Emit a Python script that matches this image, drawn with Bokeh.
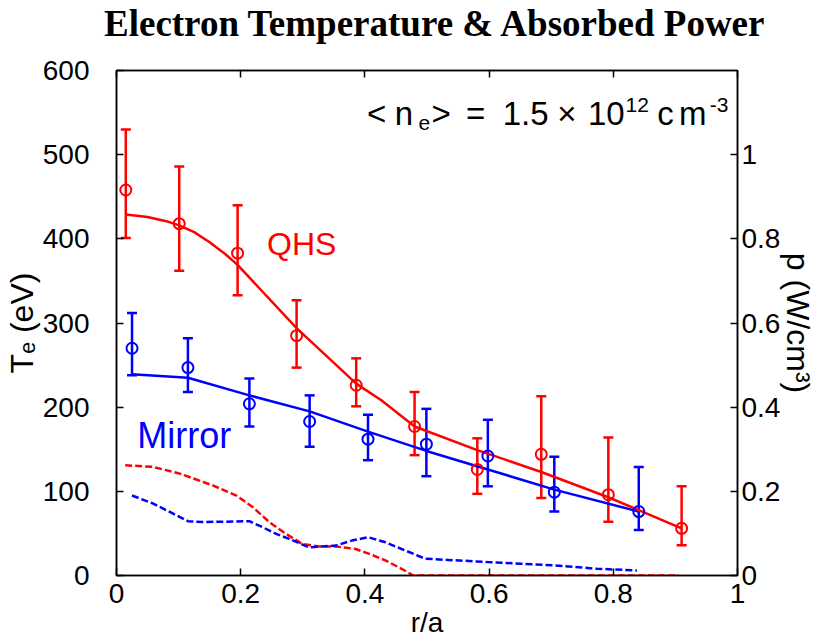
from bokeh.plotting import figure
from bokeh.layouts import column
from bokeh.models import (Range1d, LinearAxis, FixedTicker, Whisker, TeeHead,
                          ColumnDataSource, Label, Div)
from bokeh.embed import file_html
from bokeh.resources import INLINE

# ---------------- data ----------------
title_text = "Electron Temperature &amp; Absorbed Power"

r_qhs = [0.015, 0.101, 0.195, 0.290, 0.386, 0.480, 0.581, 0.684, 0.792, 0.910]
te_qhs = [458, 418, 383, 285, 226, 177, 126, 144, 96, 56]
te_qhs_hi = [530, 486, 440, 327, 258, 218, 163, 213, 164, 106]
te_qhs_lo = [401, 362, 333, 247, 201, 143, 97, 92, 64, 36]

r_mir = [0.025, 0.115, 0.214, 0.311, 0.405, 0.499, 0.598, 0.705, 0.841]
te_mir = [270, 247, 204, 183, 162, 156, 142, 99, 76]
te_mir_hi = [312, 282, 234, 214, 191, 198, 185, 141, 129]
te_mir_lo = [238, 218, 177, 153, 137, 118, 106, 76, 54]

fit_qhs_r = [0.015, 0.05, 0.08, 0.101, 0.125, 0.15, 0.175, 0.195, 0.29, 0.386,
             0.427, 0.48, 0.581, 0.684, 0.792, 0.910]
fit_qhs_te = [429, 426, 421, 416, 408, 396, 382, 369, 294, 228,
              208, 177, 149, 123, 93, 56]

fit_mir_r = [0.025, 0.115, 0.214, 0.311, 0.405, 0.499, 0.598, 0.705, 0.841]
fit_mir_te = [239, 235, 214, 195, 171, 148, 126, 102, 76]

pw_qhs_r = [0.014, 0.059, 0.102, 0.155, 0.193, 0.219, 0.246, 0.273, 0.299, 0.326,
            0.353, 0.385, 0.406, 0.433, 0.459, 0.478, 0.700, 0.905]
pw_qhs = [0.262, 0.258, 0.242, 0.214, 0.190, 0.163, 0.127, 0.099, 0.075, 0.069,
          0.069, 0.063, 0.052, 0.036, 0.016, 0.0, 0.0, 0.0]

pw_mir_r = [0.025, 0.059, 0.086, 0.115, 0.139, 0.214, 0.235, 0.257, 0.278, 0.310,
            0.331, 0.353, 0.379, 0.405, 0.433, 0.459, 0.497, 0.534, 0.597, 0.651,
            0.705, 0.774, 0.838]
pw_mir = [0.190, 0.171, 0.151, 0.129, 0.127, 0.129, 0.115, 0.099, 0.087, 0.067,
          0.069, 0.071, 0.083, 0.091, 0.079, 0.063, 0.040, 0.037, 0.032, 0.028,
          0.024, 0.016, 0.012]

x_ticks = [0, 0.2, 0.4, 0.6, 0.8, 1.0]
x_tick_labels = ["0", "0.2", "0.4", "0.6", "0.8", "1"]
te_ticks = [0, 100, 200, 300, 400, 500, 600]
p_ticks = [0, 0.2, 0.4, 0.6, 0.8, 1.0]
p_tick_labels = ["0", "0.2", "0.4", "0.6", "0.8", "1"]

RED = "#ff0000"
BLUE = "#0000ff"

# ---------------- layout ----------------
W, H = 819, 641
HEAD = 48                            # height of the title strip
FL, FR, FT, FB = 113, 740, 70, 575   # frame edges in page pixels


def X(px):
    return (px - FL) / (FR - FL)


def Y(py):
    return (FB - py) * 600.0 / (FB - FT)


head = Div(text=('<div style="font-family:\'Liberation Serif\';font-weight:bold;'
                 'font-size:37px;line-height:37px;padding:5px 0 0 104px;'
                 'white-space:nowrap;color:black;">' + title_text + '</div>'),
           width=W, height=HEAD, margin=(0, 0, 0, 0))

p = figure(width=W, height=H - HEAD, output_backend="svg", toolbar_location=None,
           x_range=Range1d(0, 1), y_range=Range1d(0, 600),
           min_border_left=FL, min_border_right=W - FR,
           min_border_top=FT - HEAD, min_border_bottom=H - FB,
           margin=(0, 0, 0, 0))
p.extra_y_ranges = {"p": Range1d(0, 1.2)}
p.xgrid.visible = False
p.ygrid.visible = False
p.outline_line_color = "black"
p.outline_line_width = 1.5
p.background_fill_color = "white"
p.border_fill_color = "white"

SANS = "Liberation Sans"


def style_axis(ax, size="28px"):
    ax.axis_line_color = "black"
    ax.axis_line_width = 1.5
    ax.major_tick_in = 7
    ax.major_tick_out = 0
    ax.major_tick_line_width = 1.5
    ax.minor_tick_in = 0
    ax.minor_tick_out = 0
    ax.major_label_text_font = SANS
    ax.major_label_text_font_size = size
    ax.major_label_text_color = "black"
    ax.axis_label_text_font = SANS
    ax.axis_label_text_font_style = "normal"
    ax.axis_label_text_color = "black"
    ax.axis_label_text_font_size = "32px"


xa = p.xaxis[0]
xa.ticker = FixedTicker(ticks=x_ticks)
xa.major_label_overrides = dict(zip(x_ticks, x_tick_labels))
style_axis(xa)
xa.major_label_standoff = 8
xa.axis_label = "r/a"
xa.axis_label_text_font_size = "28px"
xa.axis_label_standoff = 1

ya = p.yaxis[0]
ya.ticker = FixedTicker(ticks=te_ticks)
style_axis(ya)
ya.major_label_standoff = 27
ya.axis_label = "T\u2091 (eV)"
ya.axis_label_standoff = 0

ra = LinearAxis(y_range_name="p", ticker=FixedTicker(ticks=p_ticks))
ra.major_label_overrides = dict(zip(p_ticks, p_tick_labels))
style_axis(ra)
ra.major_label_standoff = 4
ra.axis_label = "p (W/cm\u00b3)"
ra.axis_label_standoff = -3
try:
    ra.axis_label_orientation = "vertical"
except Exception:
    pass
p.add_layout(ra, "right")

ta = LinearAxis(ticker=FixedTicker(ticks=x_ticks))
ta.major_label_overrides = {t: "" for t in x_ticks}
style_axis(ta, "0px")
ta.major_label_standoff = 0
p.add_layout(ta, "above")

# ---------------- power (dashed, right axis) ----------------
p.line(pw_qhs_r, pw_qhs, y_range_name="p", line_color=RED, line_width=2.5,
       line_dash="7 3")
p.line(pw_mir_r, pw_mir, y_range_name="p", line_color=BLUE, line_width=2.5,
       line_dash="7 3")

# ---------------- fits ----------------
p.line(fit_mir_r, fit_mir_te, line_color=BLUE, line_width=2.5)
p.line(fit_qhs_r, fit_qhs_te, line_color=RED, line_width=2.5)

# ---------------- error bars + markers ----------------
for rr, tt, hi, lo, col in [(r_mir, te_mir, te_mir_hi, te_mir_lo, BLUE),
                            (r_qhs, te_qhs, te_qhs_hi, te_qhs_lo, RED)]:
    src = ColumnDataSource(dict(x=rr, y=tt, upper=hi, lower=lo))
    wk = Whisker(base="x", upper="upper", lower="lower", source=src,
                 line_color=col, line_width=2.5,
                 upper_head=TeeHead(size=10, line_color=col, line_width=2.5),
                 lower_head=TeeHead(size=10, line_color=col, line_width=2.5))
    p.add_layout(wk)
    p.scatter("x", "y", source=src, marker="circle", size=11,
              fill_color=None, line_color=col, line_width=2)

# ---------------- text inside the frame ----------------


def lab(text, px, py, size, color="black"):
    p.add_layout(Label(x=X(px), y=Y(py), text=text, text_font=SANS,
                       text_font_size=size, text_color=color,
                       text_baseline="alphabetic", text_align="left"))


for txt, px, py, sz in [("<", 366, 113, "33px"), ("n", 394, 113, "33px"),
                        ("e", 418, 122, "21px"), (">", 431, 113, "33px"),
                        ("=", 466, 113, "33px"), ("1.5", 503, 113, "33px"),
                        ("\u00d7", 558, 113, "33px"), ("10", 589, 113, "33px"),
                        ("12", 627, 104, "21px"), ("c", 659, 113, "33px"),
                        ("m", 681, 113, "33px"), ("-3", 712, 104, "21px")]:
    lab(txt, px, py, sz)

lab("QHS", 265, 243, "32px", color=RED)
lab("Mirror", 134, 435, "36px", color=BLUE)

layout = column(head, p, spacing=0, margin=(0, 0, 0, 0))
open("out.html", "w").write(file_html(layout, INLINE))
